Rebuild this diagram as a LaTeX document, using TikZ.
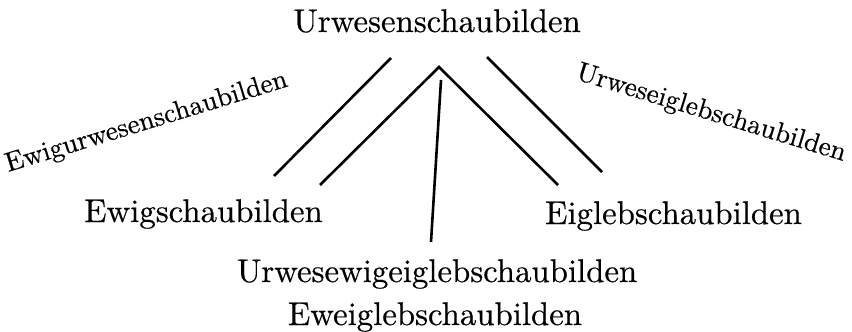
\documentclass[tikz,border=0pt]{standalone}
\usepackage{fontspec}
\setmainfont{lmroman10-regular.otf}[FakeBold=0.4]
\begin{document}
\begin{tikzpicture}[x=1pt,y=-1pt,
  lbl/.style={inner sep=0pt,anchor=base,font=\fontsize{32.8}{36}\selectfont\bfseries},
  slant/.style={inner sep=0pt,anchor=base west,font=\fontsize{27.3}{30}\selectfont\bfseries},
  bar/.style={line width=2.6pt,line cap=butt}]
\useasboundingbox (0,0) rectangle (852,332);
\node[lbl] (top) at (437,32) {Urwesenschaubilden};
\node[lbl] (ewig) at (203.5,222) {Ewigschaubilden};
\node[lbl] (eigleb) at (673.5,224) {Eiglebschaubilden};
\node[lbl] (mid) at (437,282) {Urwesewigeiglebschaubilden};
\node[lbl] (low) at (435,325) {Eweiglebschaubilden};
\node[slant,rotate=17] (lrot) at (8,172) {Ewigurwesenschaubilden};
\node[slant,rotate=-17] (rrot) at (575,79) {Urweseiglebschaubilden};
\coordinate (apex) at (439,67);
\coordinate (la) at (320,185);
\coordinate (ra) at (558,185);
\coordinate (lo1) at (391,58);
\coordinate (lo2) at (274,176);
\coordinate (ro1) at (487,57);
\coordinate (ro2) at (602,172);
\coordinate (c1) at (441,80);
\coordinate (c2) at (431,242);
\draw[bar] (la) -- (apex) -- (ra);
\draw[bar] (lo1) -- (lo2);
\draw[bar] (ro1) -- (ro2);
\draw[bar] (c1) -- (c2);
\end{tikzpicture}
\end{document}
